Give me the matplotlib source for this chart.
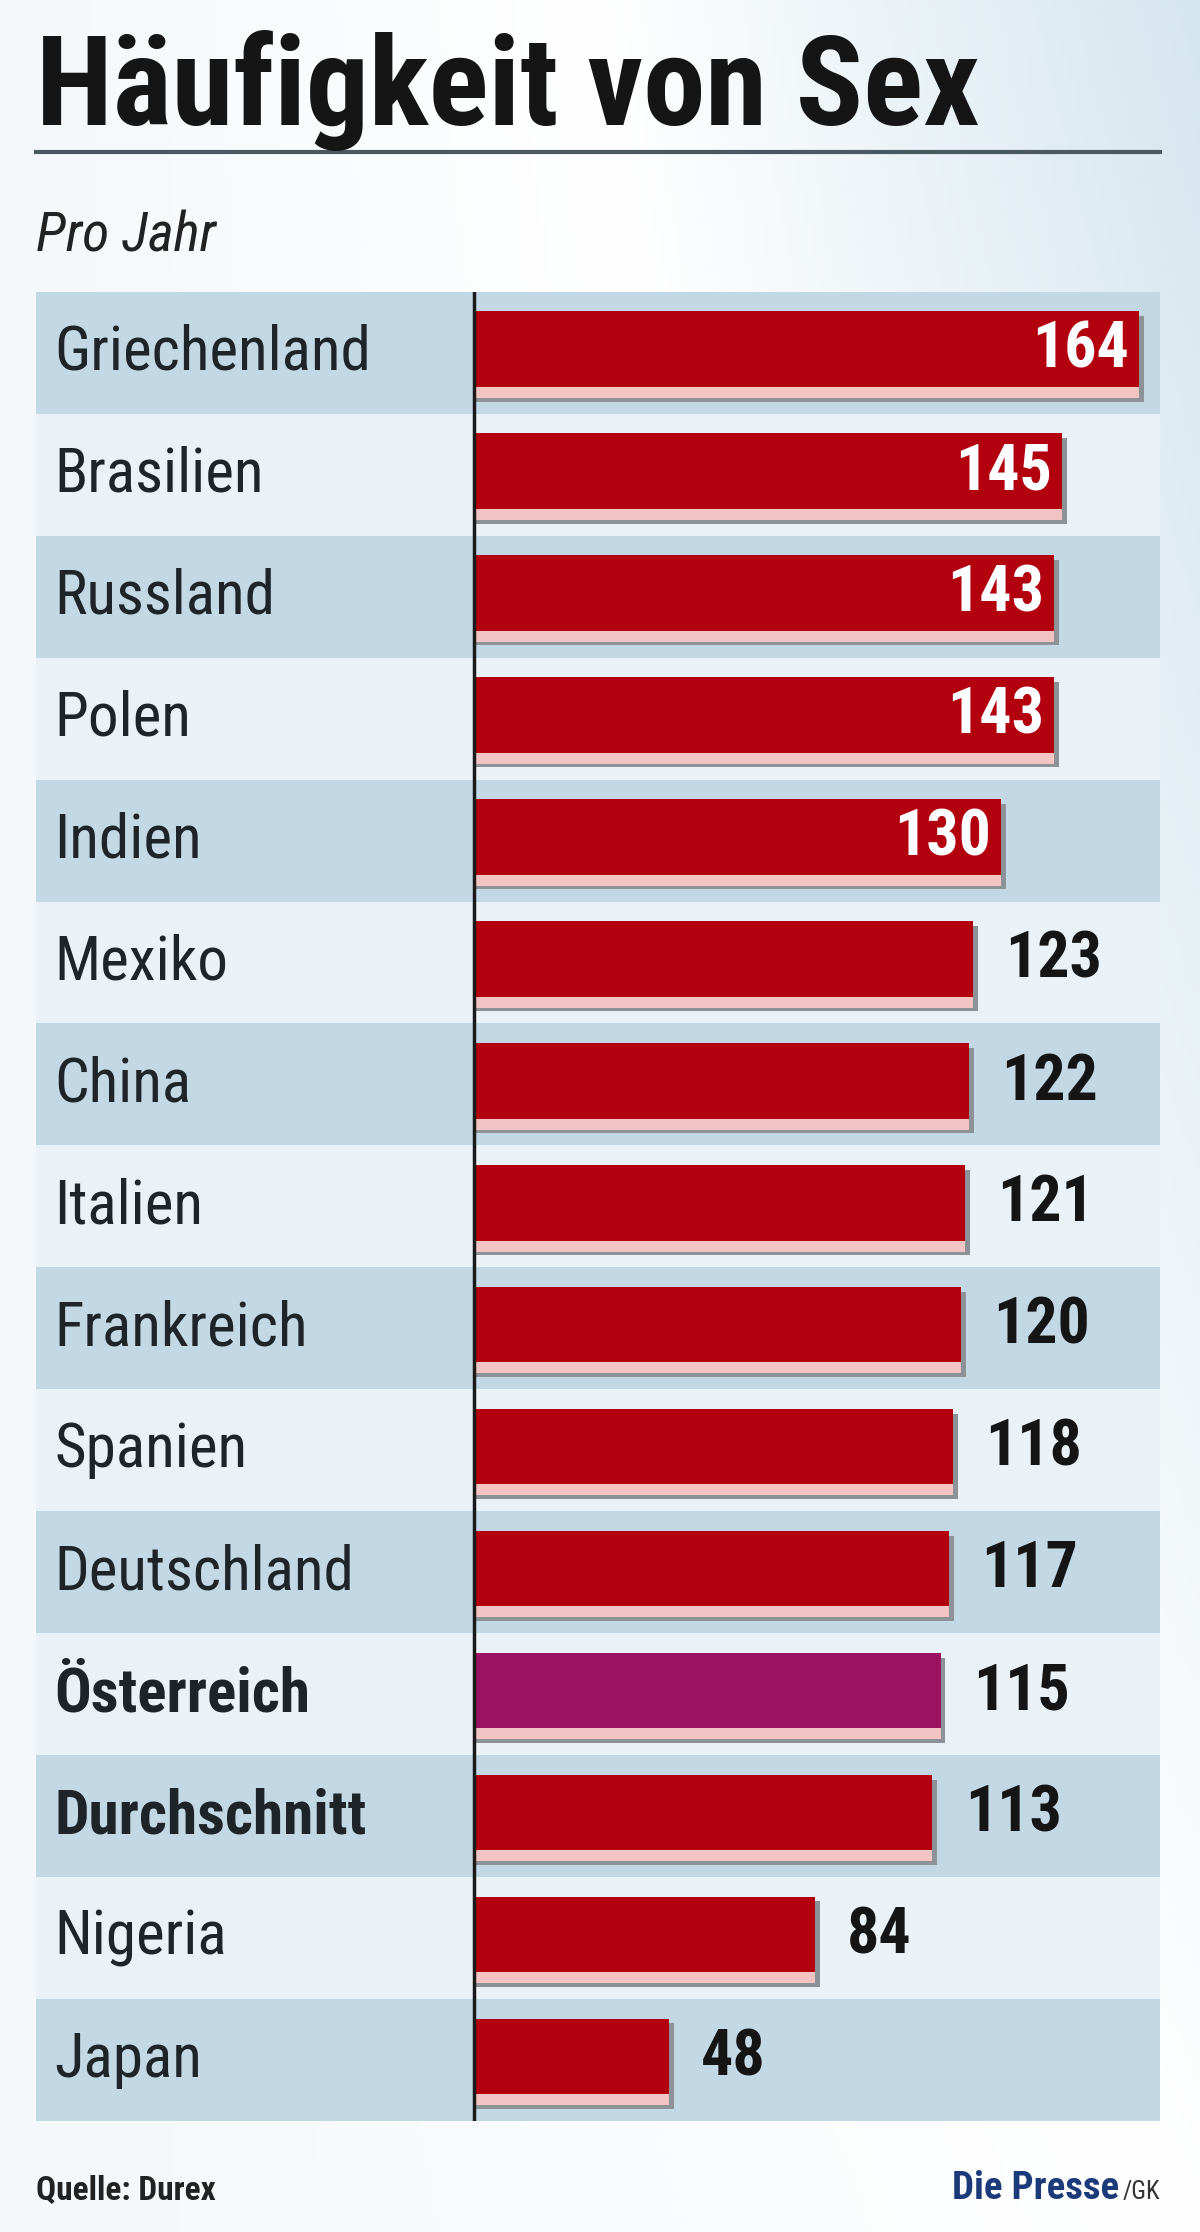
import numpy as np
import matplotlib
matplotlib.use('Agg')
import matplotlib.pyplot as plt
from matplotlib.colors import LinearSegmentedColormap

# ── Daten ────────────────────────────────────────────────────────────────
laender = ['Griechenland', 'Brasilien', 'Russland', 'Polen', 'Indien', 'Mexiko',
           'China', 'Italien', 'Frankreich', 'Spanien', 'Deutschland',
           'Österreich', 'Durchschnitt', 'Nigeria', 'Japan']
werte = [164, 145, 143, 143, 130, 123, 122, 121, 120, 118, 117, 115, 113, 84, 48]
fett = ['Österreich', 'Durchschnitt']
hervorgehoben = 'Österreich'
innen_schwelle = 130

FONT = ['Liberation Sans Narrow', 'Roboto Condensed', 'DejaVu Sans']
ROT = '#b3000f'
LILA = '#9a1360'

W, H = 843, 1568            # Referenzmaß (Anzeige), Ausgabe 1200x2232
fig = plt.figure(figsize=(12, 22.32), dpi=100)

# Hintergrund-Verlauf
bg = fig.add_axes([0, 0, 1, 1])
cmap = LinearSegmentedColormap.from_list('bg', ['#f4f8fb', '#ffffff', '#d6e6ef'])
gx, gy = np.meshgrid(np.linspace(0, 1, 200), np.linspace(0, 1, 200))
bg.imshow(0.5 * gx + 0.5 * (1 - gy) * gx, cmap=cmap, aspect='auto', extent=[0, 1, 0, 1])
bg.set_axis_off()

def fx(x):
    return x / W

def fy(y):
    return 1 - y / H

fig.text(fx(25), fy(88), 'Häufigkeit von Sex', family=FONT, fontsize=90,
         fontweight='bold', color='#151515', va='baseline')
fig.add_artist(plt.Line2D([fx(25), fx(815)], [fy(107), fy(107)], color='#4a5860', lw=3))
fig.text(fx(25), fy(177), 'Pro Jahr', family=FONT, fontsize=40, style='italic',
         color='#222222', va='baseline')
fig.text(fx(25), fy(1545), 'Quelle: Durex', family=FONT, fontsize=24,
         fontweight='bold', color='#222222', va='baseline')
fig.text(fx(786), fy(1545), 'Die Presse', family=FONT, fontsize=28, fontweight='bold',
         color='#1b3a7a', va='baseline', ha='right')
fig.text(fx(815), fy(1545), '/GK', family=FONT, fontsize=18,
         color='#333333', va='baseline', ha='right')

# ── Balken ───────────────────────────────────────────────────────────────
px = 2.85                      # Pixel je Einheit
x0 = -(333 - 25) / px
x1 = (815 - 333) / px
ax = fig.add_axes([fx(25), fy(1490), fx(815 - 25), (1490 - 205) / H])
ax.set_xlim(x0, x1)
ax.set_ylim(len(laender) - 0.5, -0.5)
ax.set_axis_off()

for i, (land, v) in enumerate(zip(laender, werte)):
    band = '#c3d8e5' if i % 2 == 0 else '#eaf2f7'
    ax.barh(i, x1 - x0, left=x0, height=1.0, color=band, lw=0, zorder=0)
    farbe = LILA if land == hervorgehoben else ROT
    ax.barh(i + 0.05, v + 1.2, left=0, height=0.7, color='#8d9296', lw=0, zorder=2)
    ax.barh(i + 0.02, v, left=0, height=0.7, color='#f2c4c4', lw=0, zorder=3)
    ax.barh(i - 0.03, v, left=0, height=0.62, color=farbe, lw=0, zorder=4)
    ax.text(x0 + 13 / px, i, land, family=FONT, fontsize=44,
            fontweight='bold' if land in fett else 'normal',
            color='#1e2428', va='center', ha='left', zorder=5)
    if v >= innen_schwelle:
        ax.text(v - 2.5, i - 0.02, str(v), family=FONT, fontsize=46, fontweight='bold',
                color='white', va='center', ha='right', zorder=5)
    else:
        ax.text(v + 8, i - 0.02, str(v), family=FONT, fontsize=46, fontweight='bold',
                color='#151515', va='center', ha='left', zorder=5)

ax.axvline(0, color='#1a1a1a', lw=2.5, zorder=6)

fig.savefig('out.png', dpi=100)
